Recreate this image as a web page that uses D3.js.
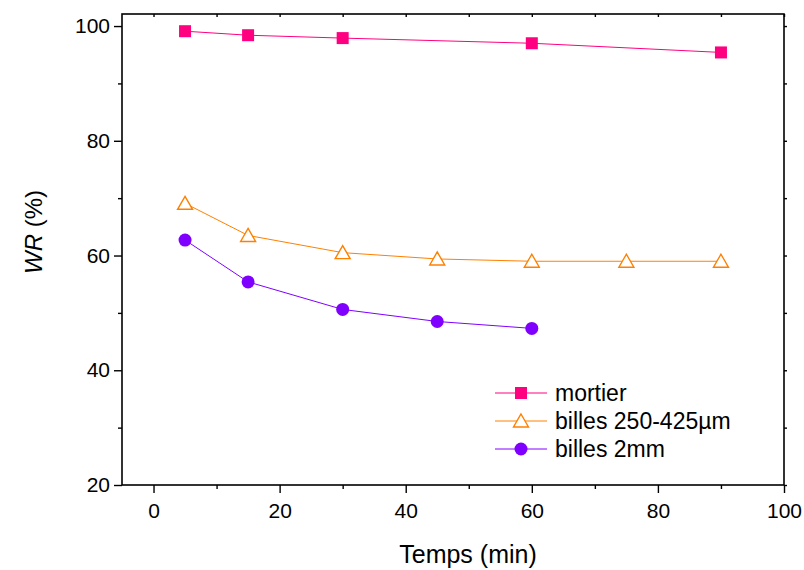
<!DOCTYPE html>
<html><head><meta charset="utf-8">
<script src="https://cdn.jsdelivr.net/npm/d3@7"></script>
<style>body{margin:0;background:#fff}svg{display:block}text{font-family:"Liberation Sans",Arial,sans-serif}</style>
</head><body><svg id="c" width="804" height="570"></svg>
<script>
const mortierX = [5, 15, 30, 60, 90];
const mortierY = [99.1, 98.4, 97.9, 97.0, 95.4];
const billes250X = [5, 15, 30, 45, 60, 75, 90];
const billes250Y = [69.1, 63.5, 60.5, 59.4, 59.0, 59.0, 59.0];
const billes2X = [5, 15, 30, 45, 60];
const billes2Y = [62.7, 55.4, 50.6, 48.5, 47.3];
const xTicks = [0, 20, 40, 60, 80, 100];
const yTicks = [20, 40, 60, 80, 100];
const seriesNames = ["mortier", "billes 250-425µm", "billes 2mm"];

const svg = d3.select("#c");
const L = 122, R = 784, T = 14, B = 485;
const x = d3.scaleLinear().domain([-5, 100]).range([L, R]);
const y = d3.scaleLinear().domain([20, 102.1]).range([B, T]);

// frame
svg.append("rect").attr("x", L).attr("y", T).attr("width", R - L).attr("height", B - T)
  .attr("fill", "none").attr("stroke", "#000").attr("stroke-width", 1.6);

const fmt = d3.format("d");
// bottom axis
svg.append("g").attr("transform", `translate(0,${B})`)
  .call(d3.axisBottom(x).tickValues(xTicks).tickFormat(fmt).tickSize(8).tickPadding(10));
svg.append("g").attr("transform", `translate(0,${B})`)
  .call(d3.axisBottom(x).tickValues(d3.range(10, 100, 20)).tickFormat("").tickSize(4));
// left axis
svg.append("g").attr("transform", `translate(${L},0)`)
  .call(d3.axisLeft(y).tickValues(yTicks).tickFormat(fmt).tickSize(8).tickPadding(4));
svg.append("g").attr("transform", `translate(${L},0)`)
  .call(d3.axisLeft(y).tickValues(d3.range(30, 101, 20)).tickFormat("").tickSize(4));
// top and right mirror ticks
svg.append("g").attr("transform", `translate(0,${T})`)
  .call(d3.axisBottom(x).tickValues(d3.range(0, 101, 10)).tickFormat("").tickSize(3));
svg.append("g").attr("transform", `translate(${R},0)`)
  .call(d3.axisRight(y).tickValues(d3.range(20, 101, 10)).tickFormat("").tickSize(3));
svg.selectAll(".domain").remove();
svg.selectAll(".tick line").attr("stroke", "#000").attr("stroke-width", 1.4);
svg.selectAll(".tick text").attr("font-size", 21).attr("fill", "#000")
  .style("font-family", '"Liberation Sans",Arial,sans-serif');

// axis titles
svg.append("text").attr("x", 468).attr("y", 563).attr("text-anchor", "middle")
  .attr("font-size", 25).text("Temps (min)");
const yl = svg.append("text").attr("transform", `translate(42,232) rotate(-90)`)
  .attr("text-anchor", "middle").attr("font-size", 24);
yl.append("tspan").attr("font-style", "italic").text("WR");
yl.append("tspan").text(" (%)");

const line = d3.line().x(d => x(d[0])).y(d => y(d[1]));
const colors = ["#FF0080", "#FF8000", "#8000FF"];
const data = [
  d3.zip(mortierX, mortierY),
  d3.zip(billes250X, billes250Y),
  d3.zip(billes2X, billes2Y)
];
function marker(g, i, cx, cy) {
  if (i === 0) g.append("rect").attr("x", cx - 6).attr("y", cy - 6).attr("width", 12).attr("height", 12).attr("fill", colors[0]);
  else if (i === 1) g.append("path").attr("d", `M${cx},${cy - 7}L${cx + 7.5},${cy + 6}L${cx - 7.5},${cy + 6}Z`)
    .attr("fill", "#fff").attr("stroke", colors[1]).attr("stroke-width", 1.4);
  else g.append("circle").attr("cx", cx).attr("cy", cy).attr("r", 6.5).attr("fill", colors[2]);
}
data.forEach((d, i) => {
  svg.append("path").datum(d).attr("d", line).attr("fill", "none").attr("stroke", colors[i]).attr("stroke-width", 1);
  const g = svg.append("g");
  d.forEach(p => marker(g, i, x(p[0]), y(p[1])));
});

// legend
const legY = [393, 421, 449];
seriesNames.forEach((n, i) => {
  svg.append("line").attr("x1", 495).attr("x2", 547).attr("y1", legY[i]).attr("y2", legY[i])
    .attr("stroke", colors[i]).attr("stroke-width", 1);
  marker(svg.append("g"), i, 521, legY[i]);
  svg.append("text").attr("x", 555).attr("y", legY[i] + 8).attr("font-size", 23).text(n);
});
</script></body></html>
